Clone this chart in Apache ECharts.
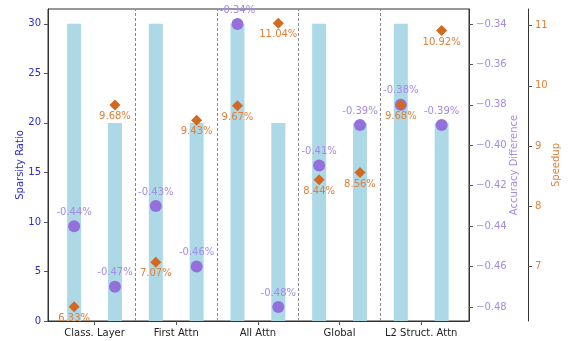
<!DOCTYPE html>
<html>
<head>
<meta charset="utf-8">
<script src="https://cdn.jsdelivr.net/npm/echarts@6/dist/echarts.min.js"></script>
<style>html,body{margin:0;padding:0;background:#fff}#c{width:568px;height:341px}</style>
</head>
<body>
<div id="c"></div>
<script>
// Data
var groups = ['Class. Layer', 'First Attn', 'All Attn', 'Global', 'L2 Struct. Attn'];
var barPositions = [0, 1, 2, 3, 4, 5, 6, 7, 8, 9];
var sparsity = [30, 20, 30, 20, 30, 20, 30, 20, 30, 20];
var accuracyDiff = [-0.44, -0.47, -0.43, -0.46, -0.34, -0.48, -0.41, -0.39, -0.38, -0.39];
var speedup = [6.33, 9.68, 7.07, 9.43, 9.67, 11.04, 8.44, 8.56, 9.68, 10.92];
var groupCenters = [0.5, 2.5, 4.5, 6.5, 8.5];
var separators = [1.5, 3.5, 5.5, 7.5];
var accTicks = [-0.48, -0.46, -0.44, -0.42, -0.40, -0.38, -0.36, -0.34];
var speedTicks = [7, 8, 9, 10, 11];

var FONT = 'DejaVu Sans';
var chart = echarts.init(document.getElementById('c'), null, {renderer: 'canvas'});

function pair(arr) { return barPositions.map(function (x, i) { return [x, arr[i]]; }); }

var option = {
  animation: false,
  textStyle: {fontFamily: FONT},
  grid: {left: 48, right: 99, top: 9, bottom: 20, containLabel: false, outerBoundsMode: 'none',
    show: true, borderColor: '#333', borderWidth: 1, backgroundColor: 'transparent'},
  xAxis: {
    type: 'value', min: -0.64, max: 9.67,
    axisLine: {show: true, onZero: false, lineStyle: {color: '#333'}},
    splitLine: {show: false},
    axisTick: {show: true, length: 4, customValues: groupCenters, lineStyle: {color: '#555'}},
    axisLabel: {customValues: groupCenters, margin: 7, color: '#222', fontSize: 10, fontFamily: FONT,
      formatter: function (v) { return groups[Math.round((v - 0.5) / 2)]; }}
  },
  yAxis: [
    {
      type: 'value', position: 'left', min: 0, max: 31.5, interval: 5,
      name: 'Sparsity Ratio', nameLocation: 'middle', nameRotate: 90, nameGap: 23, nameMoveOverlap: false,
      nameTextStyle: {color: '#2a2ad4', fontSize: 10, fontFamily: FONT},
      axisLine: {show: true, onZero: false, lineStyle: {color: '#333'}},
      axisTick: {show: true, length: 4, lineStyle: {color: '#555'}},
      splitLine: {show: false},
      axisLabel: {color: '#2a2ad4', fontSize: 10, margin: 7, fontFamily: FONT,
        showMaxLabel: false}
    },
    {
      type: 'value', position: 'right', min: -0.4869, max: -0.3326,
      name: 'Accuracy Difference', nameLocation: 'middle', nameRotate: 90, nameGap: 40, nameMoveOverlap: false,
      nameTextStyle: {color: '#a58be6', fontSize: 10, fontFamily: FONT},
      axisLine: {show: true, onZero: false, lineStyle: {color: '#333'}},
      axisTick: {show: true, length: 4, customValues: accTicks, lineStyle: {color: '#555'}},
      splitLine: {show: false},
      axisLabel: {customValues: accTicks, color: '#a58be6', fontSize: 10, margin: 7, fontFamily: FONT,
        formatter: function (v) { return (v < 0 ? '\u2212' : '') + Math.abs(v).toFixed(2); }}
    },
    {
      type: 'value', position: 'right', offset: 59, min: 6.094, max: 11.276,
      name: 'Speedup', nameLocation: 'middle', nameRotate: 90, nameGap: 23, nameMoveOverlap: false,
      nameTextStyle: {color: '#e0803a', fontSize: 10, fontFamily: FONT},
      axisLine: {show: true, onZero: false, lineStyle: {color: '#333'}},
      axisTick: {show: true, length: 4, customValues: speedTicks, lineStyle: {color: '#555'}},
      splitLine: {show: false},
      axisLabel: {customValues: speedTicks, color: '#e0803a', fontSize: 10, margin: 7, fontFamily: FONT}
    }
  ],
  series: [
    {
      type: 'bar', xAxisIndex: 0, yAxisIndex: 0, barWidth: 14,
      itemStyle: {color: '#ADD8E6'},
      data: pair(sparsity),
      markLine: {
        silent: true, symbol: ['none', 'none'], label: {show: false},
        lineStyle: {color: '#888', type: [3, 2], width: 1},
        data: separators.map(function (s) { return {xAxis: s}; })
      }
    },
    {
      type: 'scatter', xAxisIndex: 0, yAxisIndex: 1, symbol: 'circle', symbolSize: 12,
      itemStyle: {color: '#9370DB', opacity: 1},
      label: {show: true, position: 'top', distance: 3, color: '#a58be6', fontSize: 10, fontFamily: FONT,
        formatter: function (p) { return p.value[1].toFixed(2) + '%'; }},
      data: pair(accuracyDiff)
    },
    {
      type: 'scatter', xAxisIndex: 0, yAxisIndex: 2, symbol: 'diamond', symbolSize: [11, 11],
      itemStyle: {color: '#D2691E', opacity: 1},
      label: {show: true, position: 'bottom', distance: 1, color: '#e0803a', fontSize: 10, fontFamily: FONT,
        formatter: function (p) { return p.value[1].toFixed(2) + '%'; }},
      data: pair(speedup)
    }
  ]
};
chart.setOption(option);
</script>
</body>
</html>
